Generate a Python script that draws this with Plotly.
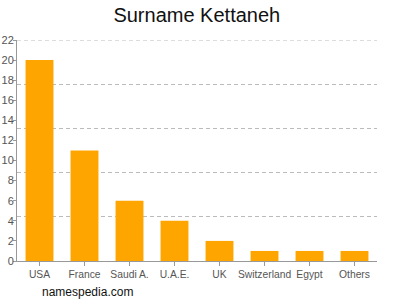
import plotly.graph_objects as go

categories = ["USA", "France", "Saudi A.", "U.A.E.", "UK", "Switzerland", "Egypt", "Others"]
values = [20, 11, 6, 4, 2, 1, 1, 1]
title_text = "Surname Kettaneh"
source_text = "namespedia.com"
y_max = 22
grid_divisions = 5

grid_vals = [y_max * k / grid_divisions for k in range(1, grid_divisions + 1)]
grid_color = "#BBBBBB"
grid_dash = "4px,3px"

fig = go.Figure()
fig.add_trace(go.Bar(x=categories, y=values, marker=dict(color="#FFA500", line=dict(width=0)), yaxis="y"))
# invisible trace on secondary axis for gridlines
fig.add_trace(go.Scatter(x=categories[:1], y=[0], yaxis="y2", mode="markers", marker=dict(opacity=0),
                         showlegend=False, hoverinfo="skip"))

fig.update_layout(
    width=400, height=300,
    margin=dict(l=17, r=23, t=40, b=39),
    paper_bgcolor="white", plot_bgcolor="white",
    showlegend=False,
    bargap=0.38,
    font=dict(family="Liberation Sans, Arial, sans-serif", color="#555555", size=11),
    title=dict(text=title_text, x=0.492, xanchor="center", y=0.95, yanchor="middle",
               font=dict(size=20, color="#111111")),
    xaxis=dict(showline=True, linecolor="#999999", linewidth=1, ticks="outside", ticklen=4,
               tickcolor="#999999", tickfont=dict(size=10.3, color="#555555"), showgrid=False,
               tickangle=0, automargin=False),
    yaxis=dict(range=[0, y_max], tick0=0, dtick=2, ticks="outside", ticklen=3, tickcolor="#999999",
               showgrid=False, showline=True, linecolor="#999999", linewidth=1, zeroline=False,
               automargin=False, ticklabelstandoff=-3,
               tickfont=dict(size=11, color="#555555")),
    yaxis2=dict(range=[0, y_max], tickmode="array", tickvals=grid_vals, overlaying="y", side="right",
                showticklabels=False, showgrid=True, gridcolor=grid_color, griddash=grid_dash,
                gridwidth=1, zeroline=False, showline=False, ticks="", automargin=False),
    annotations=[dict(text=source_text, xref="paper", yref="paper", x=0, y=-0.14,
                      xshift=23, xanchor="left", yanchor="middle", showarrow=False,
                      font=dict(size=12, color="#111111"))],
)
# top gridline (plotly drops gridlines that sit on the plot edge)
fig.add_shape(type="line", xref="paper", yref="y", x0=0, x1=1, y0=grid_vals[-1], y1=grid_vals[-1],
              line=dict(color=grid_color, width=1, dash=grid_dash), layer="below")
fig.write_html("out.html")
